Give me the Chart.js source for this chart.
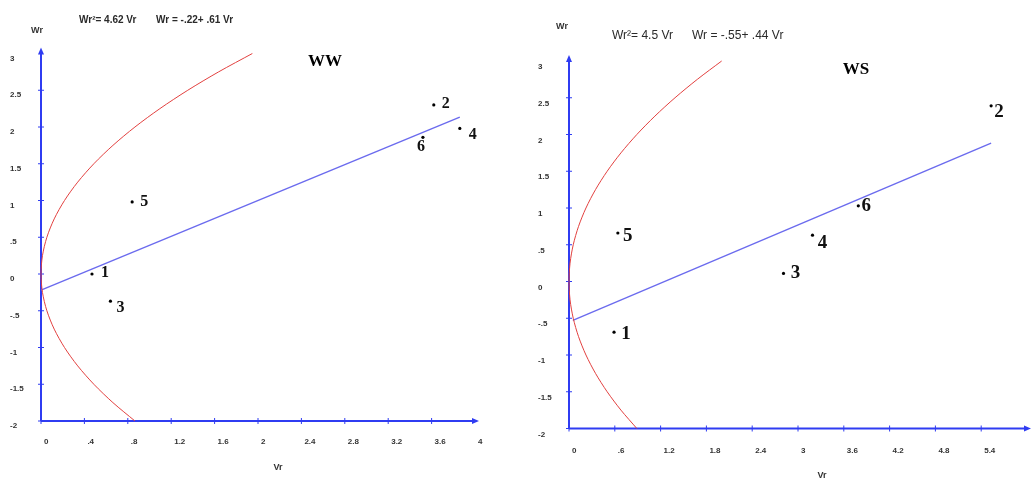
<!DOCTYPE html>
<html>
<head>
<meta charset="utf-8">
<script src="https://cdn.jsdelivr.net/npm/chart.js@4.4.1/dist/chart.umd.min.js"></script>
<style>
  html, body { margin: 0; padding: 0; background: #fff; width: 1031px; height: 480px; overflow: hidden; }
  #ww { position: absolute; left: 0; top: 0; }
  #ws { position: absolute; left: 515px; top: 0; }
</style>
</head>
<body>
<canvas id="ww" width="515" height="480"></canvas>
<canvas id="ws" width="516" height="480"></canvas>
<script>
// ---------- WW panel ----------
const pointIdsWW = ['1', '2', '3', '4', '5', '6'];
const vrWW = [0.47, 3.62, 0.64, 3.86, 0.84, 3.52];
const wrWW = [0.00, 2.30, -0.37, 1.98, 0.98, 1.86];
const parabolaCoefWW = 4.62;        // Wr² = k · Vr
const lineInterceptWW = -0.22;      // Wr = a + b · Vr
const lineSlopeWW = 0.61;
const lineSpanWW = [0, 3.86];
const xTicksWW = [0, 0.4, 0.8, 1.2, 1.6, 2, 2.4, 2.8, 3.2, 3.6, 4];
const xTickLabelsWW = ['0', '.4', '.8', '1.2', '1.6', '2', '2.4', '2.8', '3.2', '3.6', '4'];

// ---------- WS panel ----------
const pointIdsWS = ['1', '2', '3', '4', '5', '6'];
const vrWS = [0.59, 5.53, 2.81, 3.19, 0.64, 3.79];
const wrWS = [-0.69, 2.39, 0.11, 0.63, 0.66, 1.03];
const parabolaCoefWS = 4.5;
const lineInterceptWS = -0.55;
const lineSlopeWS = 0.44;
const lineSpanWS = [0.05, 5.53];
const xTicksWS = [0, 0.6, 1.2, 1.8, 2.4, 3, 3.6, 4.2, 4.8, 5.4];
const xTickLabelsWS = ['0', '.6', '1.2', '1.8', '2.4', '3', '3.6', '4.2', '4.8', '5.4'];

// ---------- shared ----------
const yTicks = [-2, -1.5, -1, -0.5, 0, 0.5, 1, 1.5, 2, 2.5, 3];
const yTickLabels = ['-2', '-1.5', '-1', '-.5', '0', '.5', '1', '1.5', '2', '2.5', '3'];
// Wr levels at which each fitted curve Wr² = k·Vr is traced
const curveWr = [-2, -1.75, -1.5, -1.25, -1, -0.75, -0.5, -0.25, 0,
                 0.25, 0.5, 0.75, 1, 1.25, 1.5, 1.75, 2, 2.25, 2.5, 2.75, 3];

const AXIS_BLUE = '#2f3cf2';
const FIT_BLUE = '#6b6bee';
const CURVE_RED = '#e2403f';

// strip the leading zero the way the axis and equations print numbers
function shortNum(v) {
  const s = String(v);
  return s.replace(/^0\./, '.').replace(/^-0\./, '-.');
}

function makePanel(id, p) {
  const points = p.vr.map((v, i) => ({ x: v, y: p.wr[i] }));
  const fit = p.lineSpan.map(v => ({ x: v, y: p.intercept + p.slope * v }));
  const curve = curveWr.map(w => ({ x: (w * w) / p.coef, y: w }));

  const decor = {
    id: 'panelDecor',
    beforeDatasetsDraw(chart) {
      const { ctx, scales: { x, y } } = chart;
      const x0 = x.getPixelForValue(0);
      const yb = y.getPixelForValue(y.min);
      const yt = y.getPixelForValue(y.max) - 4;
      const xr = x.getPixelForValue(x.max) + 2;
      ctx.save();
      ctx.strokeStyle = AXIS_BLUE;
      ctx.fillStyle = AXIS_BLUE;
      ctx.lineWidth = 2;
      ctx.beginPath();
      ctx.moveTo(x0, yb); ctx.lineTo(x0, yt + 4);
      ctx.moveTo(x0, yb); ctx.lineTo(xr - 4, yb);
      ctx.stroke();
      // arrowheads
      ctx.beginPath();
      ctx.moveTo(x0, yt - 2); ctx.lineTo(x0 - 3, yt + 5); ctx.lineTo(x0 + 3, yt + 5); ctx.closePath();
      ctx.fill();
      ctx.beginPath();
      ctx.moveTo(xr + 2, yb); ctx.lineTo(xr - 5, yb - 3); ctx.lineTo(xr - 5, yb + 3); ctx.closePath();
      ctx.fill();
      // tick marks crossing the axes
      ctx.lineWidth = 1;
      ctx.beginPath();
      p.yTicks.forEach(v => {
        if (v >= y.max) return;
        const py = y.getPixelForValue(v);
        ctx.moveTo(x0 - 3, py); ctx.lineTo(x0 + 3, py);
      });
      p.xTicks.forEach(v => {
        if (v >= x.max) return;
        const px = x.getPixelForValue(v);
        ctx.moveTo(px, yb - 3); ctx.lineTo(px, yb + 3);
      });
      ctx.stroke();
      ctx.restore();
    },
    afterDraw(chart) {
      const { ctx, scales: { x, y } } = chart;
      ctx.save();
      ctx.textBaseline = 'middle';
      // equations
      ctx.fillStyle = '#2a2a2a';
      ctx.font = p.eqFont;
      ctx.textAlign = 'left';
      ctx.fillText('Wr\u00b2= ' + p.coef + ' Vr', p.eq1[0], p.eq1[1]);
      ctx.fillText('Wr = ' + shortNum(p.intercept) + '+ ' + shortNum(p.slope) + ' Vr', p.eq2[0], p.eq2[1]);
      // axis titles
      ctx.textAlign = 'center';
      ctx.font = 'bold 9px "Liberation Sans", Arial, sans-serif';
      ctx.fillStyle = '#333';
      ctx.fillText('Wr', p.wrTitle[0], p.wrTitle[1]);
      ctx.fillText('Vr', p.vrTitle[0], p.vrTitle[1]);
      // panel name
      ctx.fillStyle = '#000';
      ctx.font = 'bold 17px "Liberation Serif", "Times New Roman", serif';
      ctx.fillText(p.name, p.namePos[0], p.namePos[1]);
      // point numbers
      ctx.font = p.idFont;
      ctx.fillStyle = '#111';
      p.ids.forEach((label, i) => {
        const px = x.getPixelForValue(p.vr[i]);
        const py = y.getPixelForValue(p.wr[i]);
        ctx.fillText(label, px + p.idNudge[i][0], py + p.idNudge[i][1]);
      });
      ctx.restore();
    }
  };

  return new Chart(document.getElementById(id), {
    type: 'scatter',
    data: {
      datasets: [
        {
          data: curve, showLine: true, borderColor: CURVE_RED, borderWidth: 1,
          pointRadius: 0, tension: 0.3, fill: false
        },
        {
          data: fit, showLine: true, borderColor: FIT_BLUE, borderWidth: 1.4,
          pointRadius: 0, fill: false
        },
        {
          data: points, showLine: false, pointRadius: 1.6, pointBorderWidth: 0,
          pointBackgroundColor: '#000', pointBorderColor: '#000'
        }
      ]
    },
    options: {
      responsive: false,
      animation: false,
      clip: false,
      layout: { padding: p.padding },
      plugins: { legend: { display: false }, tooltip: { enabled: false } },
      scales: {
        x: {
          type: 'linear', min: 0, max: p.xMax,
          grid: { display: false, drawTicks: false },
          border: { display: false },
          afterBuildTicks: s => { s.ticks = p.xTicks.map(v => ({ value: v })); },
          afterFit: s => { s.height = p.xAxisHeight; },
          ticks: {
            autoSkip: false, maxRotation: 0, align: 'start', labelOffset: 3,
            padding: p.xLabelPad, color: '#333',
            font: { family: '"Liberation Sans", Arial, sans-serif', size: 8, weight: 'bold' },
            callback: (v, i) => p.xLabels[i]
          }
        },
        y: {
          type: 'linear', min: -2, max: 3,
          grid: { display: false, drawTicks: false },
          border: { display: false },
          afterBuildTicks: s => { s.ticks = p.yTicks.map(v => ({ value: v })); },
          afterFit: s => { s.width = p.yAxisWidth; },
          ticks: {
            autoSkip: false, crossAlign: 'far', labelOffset: p.yLabelOffset, color: '#333',
            font: { family: '"Liberation Sans", Arial, sans-serif', size: 8, weight: 'bold' },
            callback: (v, i) => p.yLabels[i]
          }
        }
      }
    },
    plugins: [decor]
  });
}

makePanel('ww', {
  name: 'WW', ids: pointIdsWW, vr: vrWW, wr: wrWW,
  coef: parabolaCoefWW, intercept: lineInterceptWW, slope: lineSlopeWW, lineSpan: lineSpanWW,
  xTicks: xTicksWW, xLabels: xTickLabelsWW, yTicks: yTicks, yLabels: yTickLabels,
  xMax: 4,
  padding: { left: 10, right: 40, top: 53.5, bottom: 0 },
  yAxisWidth: 31, xAxisHeight: 59, xLabelPad: 16, yLabelOffset: 5,
  eqFont: 'bold 10px "Liberation Sans", Arial, sans-serif',
  eq1: [79, 20], eq2: [156, 20],
  wrTitle: [37, 31], vrTitle: [278, 468], namePos: [325, 62],
  idFont: 'bold 16px "Liberation Serif", "Times New Roman", serif',
  idNudge: [[13, -1], [12, -1], [10, 7], [13, 6], [12, 0], [-2, 10]]
});

makePanel('ws', {
  name: 'WS', ids: pointIdsWS, vr: vrWS, wr: wrWS,
  coef: parabolaCoefWS, intercept: lineInterceptWS, slope: lineSlopeWS, lineSpan: lineSpanWS,
  xTicks: xTicksWS, xLabels: xTickLabelsWS, yTicks: yTicks, yLabels: yTickLabels,
  xMax: 6,
  padding: { left: 23, right: 2, top: 61, bottom: 0 },
  yAxisWidth: 31, xAxisHeight: 51.5, xLabelPad: 17, yLabelOffset: 6,
  eqFont: '12px "Liberation Sans", Arial, sans-serif',
  eq1: [97, 36], eq2: [177, 36],
  wrTitle: [47, 27], vrTitle: [307, 476], namePos: [341, 70],
  idFont: 'bold 19px "Liberation Serif", "Times New Roman", serif',
  idNudge: [[12, 2], [8, 6], [12, 0], [10, 8], [10, 3], [8, 0]]
});
</script>
</body>
</html>
